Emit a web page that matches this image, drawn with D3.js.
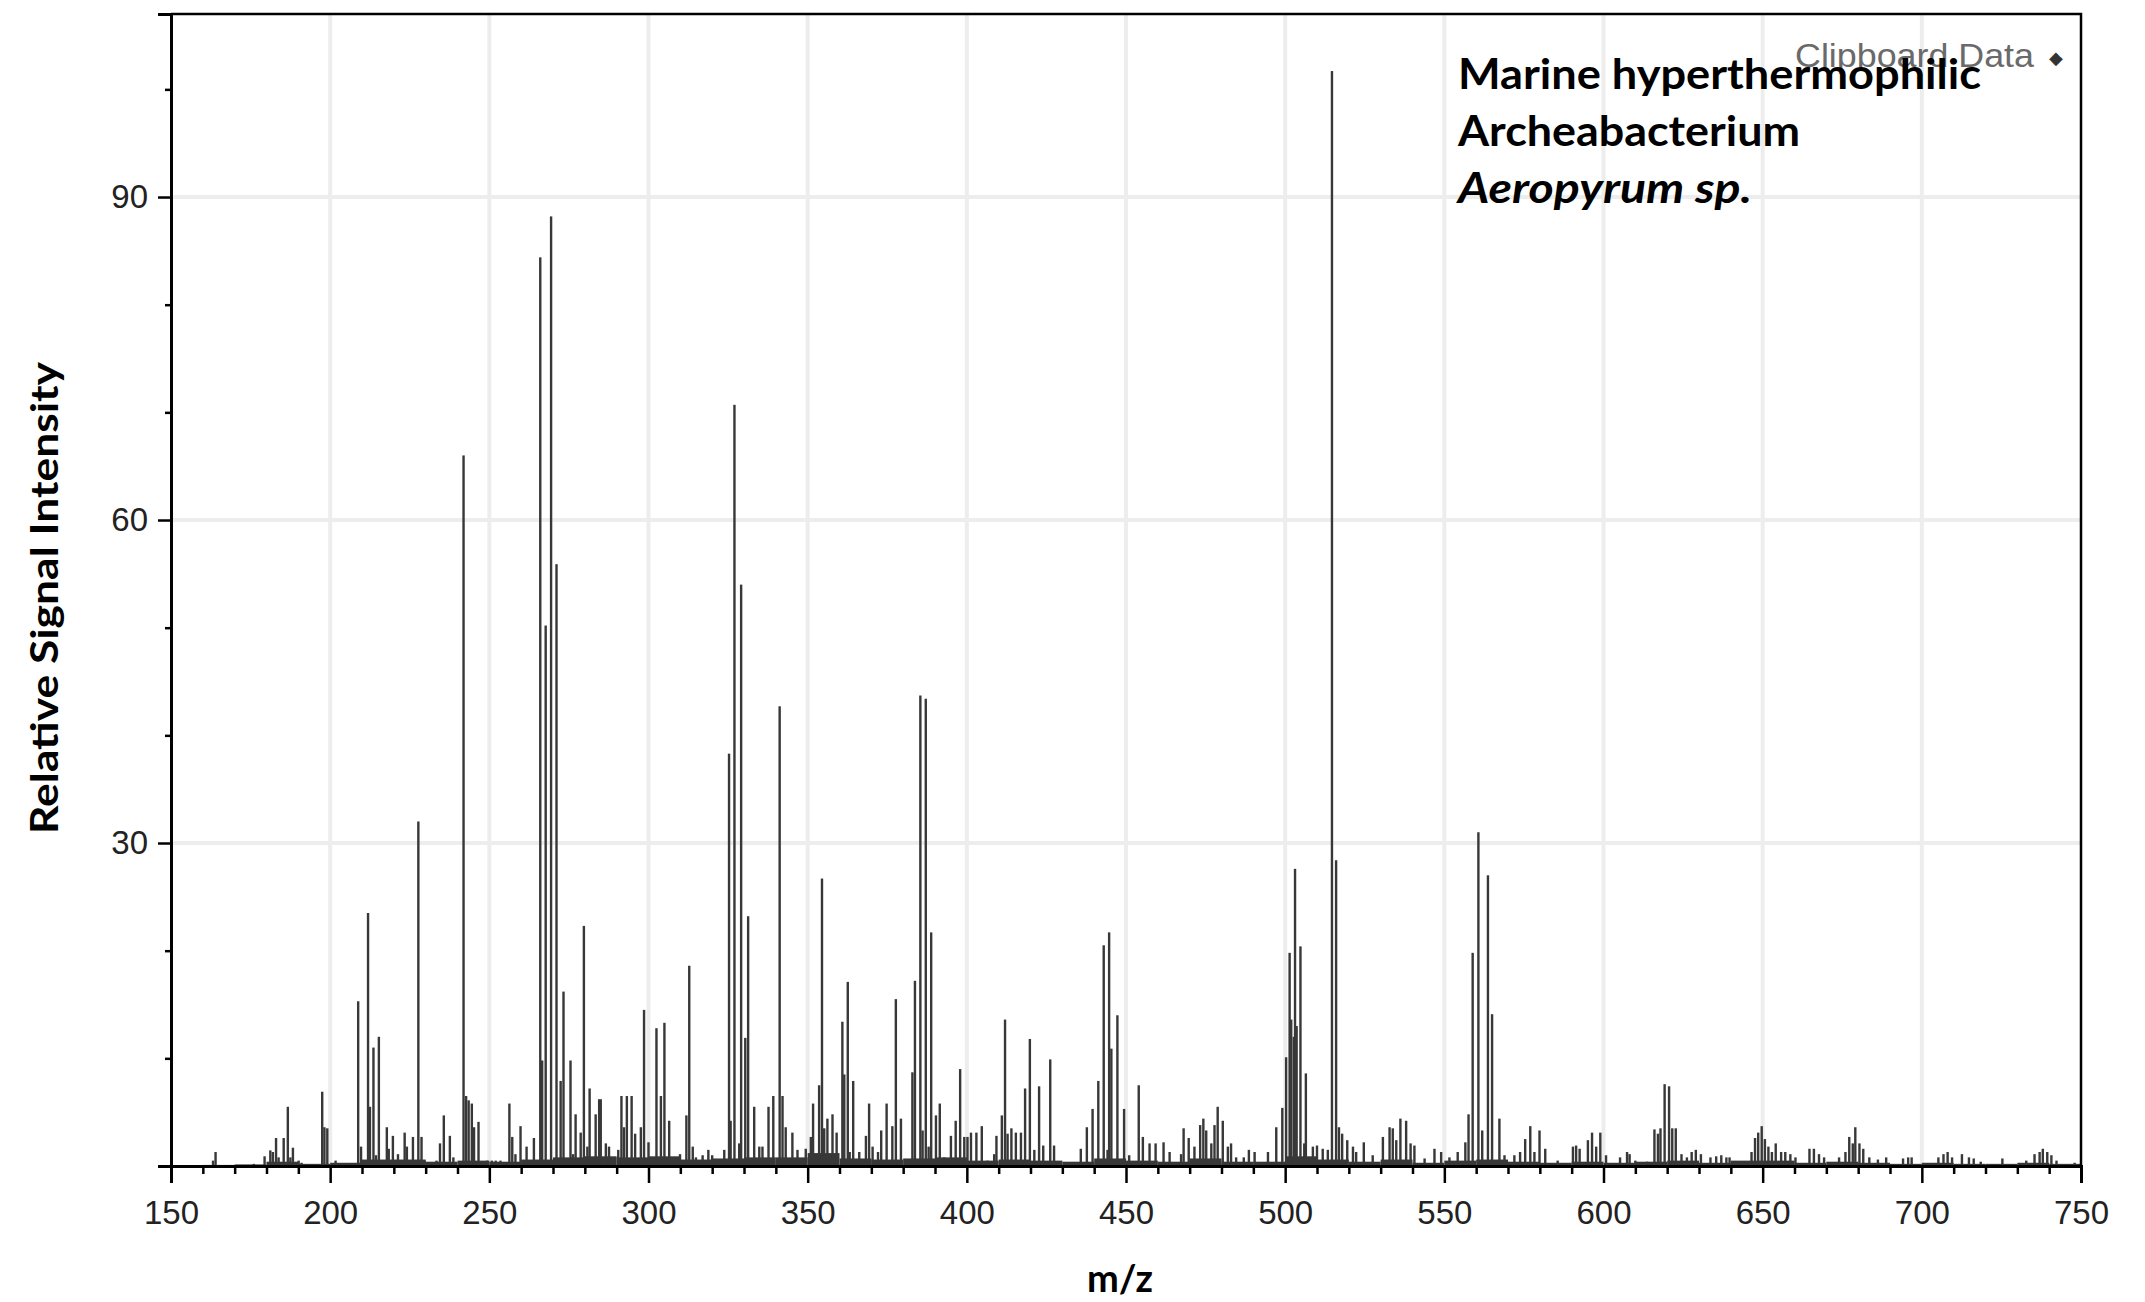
<!DOCTYPE html>
<html>
<head>
<meta charset="utf-8">
<script src="https://cdn.jsdelivr.net/npm/d3@7"></script>
<style>
  html, body { margin: 0; padding: 0; background: #fff; }
  svg { display: block; }
</style>
</head>
<body>
<div id="chart"></div>
<script>
// Axis ticks
const xMajorTicks = [150, 200, 250, 300, 350, 400, 450, 500, 550, 600, 650, 700, 750];
const xGridTicks = [200, 250, 300, 350, 400, 450, 500, 550, 600, 650, 700];
const yMajorTicks = [30, 60, 90];
const yMinorTicks = [10, 20, 40, 50, 70, 80, 100];

// Main peaks [m/z, intensity]
const majorPeaks = [
  [208.8, 15.3], [211.9, 23.5], [213.6, 11], [215.3, 12], [227.7, 32], [241.9, 66],
  [266, 84.4], [267.7, 50.2], [269.4, 88.2], [271.1, 55.9], [273.3, 16.2], [279.7, 22.3],
  [298.6, 14.5], [302.5, 12.8], [305, 13.3], [312.8, 18.6], [325.3, 38.3], [327, 70.7],
  [329.1, 54], [331.3, 23.2], [341.2, 42.7], [354.5, 26.7], [360.9, 13.4], [362.6, 17.1],
  [377.7, 15.5], [383.7, 17.2], [385.4, 43.7], [387.1, 43.4], [388.8, 21.7], [412, 13.6],
  [419.8, 11.8], [426.2, 9.9], [443, 20.5], [444.7, 21.7], [447.3, 14], [501.4, 19.8],
  [503.1, 27.6], [504.8, 20.4], [514.7, 101.7], [516, 28.4], [558.9, 19.8], [560.7, 31],
  [563.7, 27], [565, 14.1]
];

// Smaller peaks, by region
const peaks150to300 = [
  [163.2, 0.5], [164, 1.3], [176, 0.2], [179.4, 0.9], [181.2, 1.45], [182, 1.3], [183, 2.6],
  [183.8, 0.8], [185.4, 2.6], [186.7, 5.5], [187.5, 0.8], [188.3, 1.7], [190.1, 0.5], [191, 0.3],
  [197.5, 6.9], [198.2, 3.6], [199.1, 3.5], [201.7, 0.5], [209.7, 1.8], [212.5, 5.5], [214.4, 1],
  [217.8, 3.6], [218.4, 1.6], [219.7, 2.8], [221.3, 1.1], [223.4, 3.1], [224.1, 1.8], [226, 2.7],
  [228.7, 2.7], [229.7, 0.5], [233.4, 0.5], [234.5, 2.1], [235.7, 4.7], [237.6, 2.8], [238.7, 0.8],
  [242.7, 6.5], [243.5, 6.1], [244.5, 5.8], [245.2, 3.6], [246.6, 4.1], [249.3, 0.5], [250.8, 0.5],
  [252, 0.5], [253.5, 0.5], [256.3, 5.8], [257.2, 2.7], [258.2, 1.1], [259.8, 3.7], [261.7, 1.8],
  [264, 2.6], [266.6, 9.8], [272.4, 7.9], [275.5, 9.8], [276.3, 1.1], [277.1, 4.8], [278.7, 3.1],
  [280.8, 1.8], [281.5, 7.2], [283.4, 4.8], [284.5, 6.2], [285, 6.2], [286.6, 2.1], [287.6, 1.8],
  [290.5, 1.5], [291.5, 6.5], [292.3, 3.6], [293.2, 6.5], [294.7, 6.5], [295.8, 3], [297.6, 3.6],
  [300, 2.2]
];
const peaks300to450 = [
  [303.9, 6.5], [306.5, 4.2], [308.6, 0.8], [309.9, 1.1], [311.9, 4.7], [313.9, 1.8], [314.9, 0.8],
  [317, 1], [318.8, 1.5], [320, 1], [323.8, 1.5], [325.8, 4.2], [328.5, 2.1], [330.4, 11.9],
  [333.2, 5.5], [334.8, 1.8], [335.8, 1.8], [337.7, 5.5], [339.2, 6.5], [342.1, 6.5], [343.1, 3.6],
  [345.2, 3.1], [346.8, 1.5], [349.4, 1.6], [351, 2.7], [351.7, 5.8], [353.6, 7.5], [355.2, 3.5],
  [356.2, 4.4], [357.8, 4.8], [359.1, 3.1], [361.5, 8.5], [363.2, 1.3], [364.3, 7.9], [366.2, 1.3],
  [368.3, 2.8], [369.3, 5.8], [370.4, 1.8], [372.1, 1.3], [373.1, 3.3], [374.8, 5.8], [376.6, 3.7],
  [379.3, 4.4], [381.4, 0.5], [382.9, 8.7], [386.1, 3.3], [388, 1.8], [390.3, 4.7], [391.5, 5.8],
  [392.9, 0.8], [395, 2.8], [396.5, 4.2], [397.9, 9], [399.2, 2.7], [400.2, 2.7], [401.3, 3.1],
  [403, 3.1], [404.7, 3.7], [406.5, 0.5], [408.6, 1.1], [409.3, 2.8], [411, 4.7], [412.8, 3],
  [414, 3.5], [415.4, 3.1], [417, 3.1], [418.3, 7.2], [421.2, 1.5], [422.7, 7.4], [424, 1.9],
  [427.4, 1.9], [435.8, 1.6], [437.7, 3.6], [439.5, 5.3], [441.3, 7.9], [444.2, 1.5], [445.4, 10.9],
  [449.4, 5.3]
];
const peaks450to600 = [
  [451, 1], [454, 7.5], [455.3, 2.7], [457.4, 2.1], [459.3, 2.1], [461.8, 2.2], [463.7, 1.3],
  [467.3, 1.1], [468.1, 3.5], [469.7, 2.6], [471.5, 1.8], [473.3, 3.8], [474.3, 4.4], [475.2, 3.3],
  [476.8, 2.1], [477.8, 3.8], [478.8, 5.5], [480.4, 4.2], [482, 1.8], [483, 2.1], [484.6, 0.8],
  [487, 0.8], [488.6, 1.5], [490.4, 1.3], [494.6, 1.3], [497.2, 3.6], [499.1, 5.4], [500.3, 10.1],
  [501.9, 13.6], [502.7, 12], [503.6, 13], [506, 2.1], [506.5, 8.6], [508.7, 1.8], [510, 1.9],
  [511.8, 1.6], [513.4, 1.5], [516.9, 3.6], [517.9, 3], [519.5, 2.4], [521.3, 1.8], [522.3, 1.3],
  [524.7, 2.2], [527.5, 1], [530.7, 2.7], [532.8, 3.6], [533.8, 3.5], [534.9, 2.4], [536.2, 4.4],
  [538, 4.2], [539.4, 2.1], [540.6, 1.9], [543.8, 0.7], [546.9, 1.6], [549, 1.3], [551.6, 0.8],
  [554.2, 1.3], [556.6, 2.2], [557.6, 4.8], [561.9, 3.3], [567.3, 4.4], [568.9, 1], [572, 1],
  [573.8, 1.3], [575.4, 2.5], [577, 3.7], [578.3, 1.3], [579.9, 3.3], [581.7, 1.6], [585.6, 0.5],
  [590.4, 1.8], [591.4, 1.9], [592.5, 1.6], [595.1, 2.4], [596.4, 3.1], [597.7, 1.8], [599, 3.1]
];
const peaks600to750 = [
  [600.8, 1], [605.2, 0.8], [607.4, 1.3], [608.2, 1.1], [610, 0.5], [613.7, 0.4], [616, 3.4],
  [617.1, 3], [617.9, 3.5], [619.2, 7.6], [620.6, 7.4], [621.6, 3.5], [622.7, 3.5], [624.5, 1.1],
  [626.2, 0.8], [627.7, 1.3], [629, 1.5], [630.6, 1.1], [633.6, 0.8], [635.4, 0.9], [637, 1],
  [638.6, 0.8], [639.6, 0.8], [646.5, 1.3], [647.6, 2.6], [648.6, 3.1], [649.7, 3.7], [650.7, 2.5],
  [651.8, 1.8], [652.9, 1.3], [654.1, 2.1], [655.8, 1.3], [657.1, 1.3], [658.7, 1.1], [660.3, 0.8],
  [664.7, 1.6], [666.1, 1.6], [667.7, 1.1], [669.3, 0.8], [674, 0.8], [676, 1.3], [677.2, 2.7],
  [678.3, 2.1], [679.1, 3.6], [680.4, 2.1], [681.6, 1.6], [683.5, 0.8], [686.2, 0.6], [688.8, 0.8],
  [694.1, 0.7], [695.7, 0.8], [696.8, 0.8], [705.2, 0.8], [706.8, 1.1], [708.1, 1.3], [709.5, 0.8],
  [712.6, 1.1], [714.8, 0.8], [716.3, 0.7], [718.5, 0.4], [725.3, 0.7], [732.8, 0.5], [735.4, 1.1],
  [737, 1.3], [738, 1.6], [739.4, 1.3], [740.7, 1], [742.3, 0.5], [748, 0.3]
];

// Noise floor, one level per 10 m/z bin starting at 150
const floorStart = 150;
const floorLevels = [
  0, 0.1, 0.15, 0.4, 0.2, 0.3, 0.6, 0.6, 0.4, 0.5,
  0.4, 0.6, 0.8, 0.9, 0.8, 0.9, 0.6, 0.7, 0.8, 0.8,
  1.2, 0.7, 0.6, 0.7, 0.8, 0.5, 0.6, 0.5, 0.4, 0.7,
  0.5, 0.4, 0.7, 0.4, 0.4, 0.9, 0.6, 0.4, 0.6, 0.3,
  0.5, 0.6, 0.4, 0.3, 0.4, 0.3, 0.4, 0.5, 0.3, 0.5,
  0.5, 0.3, 0.4, 0.3, 0.2, 0.3, 0.2, 0.2, 0.3, 0.2
];

const W = 2145, H = 1302;
const plot = { left: 171, right: 2081, top: 14, bottom: 1166 };
const barColor = "#383838";

const svg = d3.select("#chart").append("svg")
  .attr("width", W)
  .attr("height", H);

const x = d3.scaleLinear().domain([150, 750]).range([plot.left, plot.right]);
const y = d3.scaleLinear().domain([0, 107]).range([plot.bottom, plot.top]);

// grid
svg.append("g").selectAll("line")
  .data(xGridTicks)
  .enter().append("line")
  .attr("x1", d => x(d)).attr("x2", d => x(d))
  .attr("y1", plot.top).attr("y2", plot.bottom)
  .attr("stroke", "#ededed").attr("stroke-width", 4);

svg.append("g").selectAll("line")
  .data(yMajorTicks)
  .enter().append("line")
  .attr("x1", plot.left).attr("x2", plot.right)
  .attr("y1", d => y(d)).attr("y2", d => y(d))
  .attr("stroke", "#ededed").attr("stroke-width", 4);

// noise floor
svg.append("g").selectAll("rect")
  .data(floorLevels)
  .enter().append("rect")
  .attr("x", (d, i) => x(floorStart + i * 10))
  .attr("width", x(floorStart + 10) - x(floorStart))
  .attr("y", d => y(d))
  .attr("height", d => y(0) - y(d))
  .attr("fill", barColor);

// peaks
const allPeaks = [].concat(peaks150to300, peaks300to450, peaks450to600, peaks600to750, majorPeaks);
svg.append("g").selectAll("rect")
  .data(allPeaks)
  .enter().append("rect")
  .attr("x", d => x(d[0]) - 1.2)
  .attr("width", 2.4)
  .attr("y", d => y(d[1]))
  .attr("height", d => y(0) - y(d[1]))
  .attr("fill", barColor);

// axes
const tickFont = "'Liberation Sans', Arial, sans-serif";

const xMinor = d3.range(160, 750, 10).filter(v => v % 50 !== 0);
svg.append("g")
  .attr("transform", `translate(0,${plot.bottom})`)
  .call(d3.axisBottom(x).tickValues(xMinor).tickSize(8).tickFormat(""))
  .call(g => g.select(".domain").remove())
  .selectAll("line").attr("stroke", "#000").attr("stroke-width", 2.5);

const xAxis = svg.append("g")
  .attr("transform", `translate(0,${plot.bottom})`)
  .call(d3.axisBottom(x).tickValues(xMajorTicks).tickSize(17).tickPadding(18));
xAxis.select(".domain").attr("stroke", "#000").attr("stroke-width", 3);
xAxis.selectAll("line").attr("stroke", "#000").attr("stroke-width", 2.5);
xAxis.selectAll("text")
  .attr("font-family", tickFont).attr("font-size", 33).attr("fill", "#222");

svg.append("g")
  .attr("transform", `translate(${plot.left},0)`)
  .call(d3.axisLeft(y).tickValues(yMinorTicks).tickSize(6).tickFormat(""))
  .call(g => g.select(".domain").remove())
  .selectAll("line").attr("stroke", "#000").attr("stroke-width", 2.5);

const yAxis = svg.append("g")
  .attr("transform", `translate(${plot.left},0)`)
  .call(d3.axisLeft(y).tickValues(yMajorTicks).tickSize(13).tickPadding(10));
yAxis.select(".domain").attr("stroke", "#000").attr("stroke-width", 3);
yAxis.selectAll("line").attr("stroke", "#000").attr("stroke-width", 2.5);
yAxis.selectAll("text")
  .attr("font-family", tickFont).attr("font-size", 33).attr("fill", "#222");

// frame top and right
svg.append("path")
  .attr("d", `M${plot.left},${plot.top}H${plot.right}V${plot.bottom}`)
  .attr("fill", "none").attr("stroke", "#000").attr("stroke-width", 2.5);

// axis titles
const titleFont = "Lato, 'Open Sans', sans-serif";
svg.append("text")
  .attr("transform", `translate(58,598) rotate(-90)`)
  .attr("text-anchor", "middle")
  .attr("font-family", titleFont).attr("font-weight", "bold").attr("font-size", 38)
  .attr("textLength", 472).attr("lengthAdjust", "spacingAndGlyphs")
  .text("Relative Signal Intensity");

svg.append("text")
  .attr("x", 1120).attr("y", 1292)
  .attr("text-anchor", "middle")
  .attr("font-family", titleFont).attr("font-weight", "bold").attr("font-size", 38)
  .text("m/z");

// legend label from the source software
svg.append("text")
  .attr("x", 1795).attr("y", 67)
  .attr("font-family", tickFont).attr("font-size", 33).attr("fill", "#6a6a6a")
  .attr("textLength", 239).attr("lengthAdjust", "spacingAndGlyphs")
  .text("Clipboard Data");
svg.append("text")
  .attr("x", 2056).attr("y", 64)
  .attr("text-anchor", "middle")
  .attr("font-family", tickFont).attr("font-size", 18).attr("fill", "#333")
  .text("\u25C6");

// annotation
const note = [
  { text: "Marine hyperthermophilic", len: 523, italic: false },
  { text: "Archeabacterium", len: 342, italic: false },
  { text: "Aeropyrum sp.", len: 294, italic: true }
];
svg.append("g").selectAll("text")
  .data(note)
  .enter().append("text")
  .attr("x", 1458)
  .attr("y", (d, i) => 89 + i * 57)
  .attr("font-family", titleFont).attr("font-weight", "bold").attr("font-size", 42)
  .attr("font-style", d => d.italic ? "italic" : "normal")
  .attr("textLength", d => d.len).attr("lengthAdjust", "spacingAndGlyphs")
  .attr("fill", "#000")
  .text(d => d.text);
</script>
</body>
</html>
